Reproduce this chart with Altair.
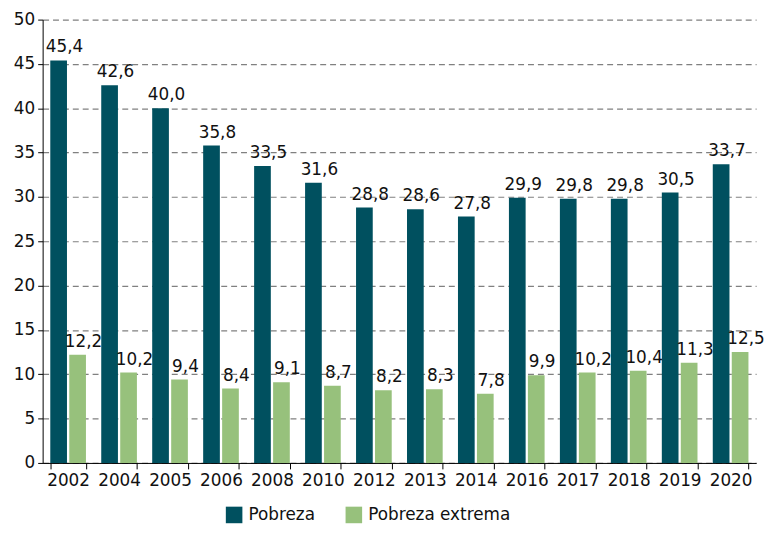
import altair as alt
import pandas as pd

years = ["2002", "2004", "2005", "2006", "2008", "2010", "2012", "2013", "2014", "2016", "2017", "2018", "2019", "2020"]
pobreza = [45.4, 42.6, 40.0, 35.8, 33.5, 31.6, 28.8, 28.6, 27.8, 29.9, 29.8, 29.8, 30.5, 33.7]
extrema = [12.2, 10.2, 9.4, 8.4, 9.1, 8.7, 8.2, 8.3, 7.8, 9.9, 10.2, 10.4, 11.3, 12.5]
series = ["Pobreza", "Pobreza extrema"]
colors = ["#00505f", "#97c17c"]

rows = []
for y, p, e in zip(years, pobreza, extrema):
    rows.append({"year": y, "serie": series[0], "value": p, "label": f"{p:.1f}".replace(".", ",")})
    rows.append({"year": y, "serie": series[1], "value": e, "label": f"{e:.1f}".replace(".", ",")})
df = pd.DataFrame(rows)

FONT = "DejaVu Sans"

x = alt.X("year:N", sort=years, title=None,
          scale=alt.Scale(paddingInner=0.3, paddingOuter=0.15),
          axis=alt.Axis(labelAngle=0, labelFontSize=17, labelColor="#111", domainColor="#000",
                        tickColor="#000", tickBand="extent", tickSize=6, labelPadding=4,
                        labelFont=FONT, grid=False))
xo = alt.XOffset("serie:N", sort=series, scale=alt.Scale(paddingInner=0.12))
y = alt.Y("value:Q", title=None,
          scale=alt.Scale(domain=[0, 50], nice=False),
          axis=alt.Axis(values=list(range(0, 51, 5)), labelFontSize=17, labelColor="#111",
                        labelFont=FONT, domainColor="#000", tickColor="#000", tickSize=5,
                        gridColor="#808080", gridDash=[6, 4], gridWidth=1.2, labelPadding=3))
color = alt.Color("serie:N", sort=series, title=None,
                  scale=alt.Scale(domain=series, range=colors),
                  legend=alt.Legend(orient="none", direction="horizontal", legendX=185, legendY=492,
                                    symbolType="square", symbolSize=280, padding=0,
                                    symbolStrokeWidth=0, labelFontSize=17, labelFont=FONT,
                                    labelColor="#111", columnPadding=30, labelOffset=6,
                                    symbolOpacity=1))

base = alt.Chart(df)
bars = base.mark_bar().encode(x=x, xOffset=xo, y=y, color=color)
text = base.mark_text(baseline="bottom", dy=-4, dx=6, fontSize=17, font=FONT, color="#111").encode(
    x=x, xOffset=xo, y=y, text="label:N")

chart = (bars + text).properties(
    width=721, height=448, padding={"left": 5, "top": 0, "right": 0, "bottom": 0}
).configure_view(stroke=None)

chart.save("out.html", embed_options={"renderer": "svg", "actions": False})
